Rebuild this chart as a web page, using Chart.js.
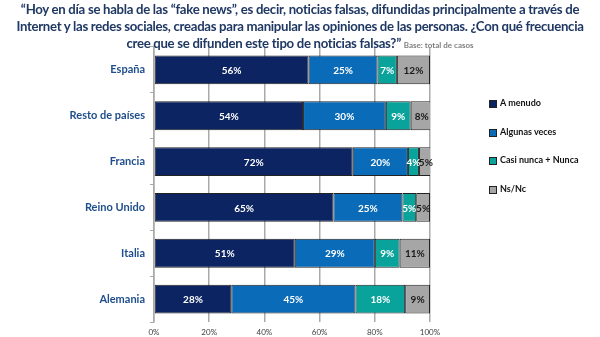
<!DOCTYPE html>
<html>
<head>
<meta charset="utf-8">
<script src="https://cdn.jsdelivr.net/npm/chart.js@4/dist/chart.umd.min.js"></script>
<style>
  body { margin: 0; width: 600px; height: 337px; background: #fff; overflow: hidden; position: relative; font-family: Lato, sans-serif; }
  #title { position: absolute; left: 0; top: 1px; width: 600px; text-align: center; font-weight: bold; font-size: 13.2px; letter-spacing: -0.3px; line-height: 17px; color: #1f3864; white-space: nowrap; z-index: 2; }
  #title small { font-size: 8px; letter-spacing: 0; color: #7f7f7f; }
  #wrap { position: absolute; left: 0; top: 0; width: 600px; height: 337px; }
  #legend { position: absolute; left: 489px; top: 97px; font-size: 9px; font-weight: bold; color: #111; }
  #legend div { height: 28.5px; display: flex; align-items: flex-start; white-space: nowrap; }
  #legend span { display: inline-block; width: 6px; height: 6px; border: 1px solid #222; margin: 3px 3px 0 0; }
</style>
</head>
<body>
<div id="title">“Hoy en día se habla de las “fake news”, es decir, noticias falsas, difundidas principalmente a través de<br>Internet y las redes sociales, creadas para manipular las opiniones de las personas. ¿Con qué frecuencia<br>cree que se difunden este tipo de noticias falsas?” <small>Base: total de casos</small></div>
<div id="wrap"><canvas id="chart" width="600" height="337"></canvas></div>
<div id="legend"></div>
<script>
// percentages per country, one array per answer
const countries = ['España', 'Resto de países', 'Francia', 'Reino Unido', 'Italia', 'Alemania'];
const aMenudo = [56, 54, 72, 65, 51, 28];
const algunasVeces = [25, 30, 20, 25, 29, 45];
const casiNunca = [7, 9, 4, 5, 9, 18];
const nsNc = [12, 8, 5, 5, 11, 9];
const seriesNames = ['A menudo', 'Algunas veces', 'Casi nunca + Nunca', 'Ns/Nc'];
const xTicks = [0, 20, 40, 60, 80, 100];

const colors = ['#0c2461', '#0a6bb8', '#0aa39c', '#a6a6a6'];
const labelColors = ['#fff', '#fff', '#fff', '#1a1a1a'];

// writes the % value in the middle of every segment
const segmentLabels = {
  id: 'segmentLabels',
  afterDatasetsDraw(chart) {
    const ctx = chart.ctx;
    ctx.save();
    ctx.font = 'bold 10px Lato';
    ctx.textAlign = 'center';
    ctx.textBaseline = 'middle';
    chart.data.datasets.forEach((ds, i) => {
      chart.getDatasetMeta(i).data.forEach((bar, j) => {
        const p = bar.getProps(['x', 'y', 'base'], true);
        ctx.fillStyle = labelColors[i];
        ctx.fillText(ds.data[j] + '%', (p.x + p.base) / 2, p.y + 1);
      });
    });
    ctx.restore();
  }
};

const ctx = document.getElementById('chart').getContext('2d');
const chart = new Chart(ctx, {
  type: 'bar',
  data: {
    labels: countries,
    datasets: [aMenudo, algunasVeces, casiNunca, nsNc].map((d, i) => ({
      label: seriesNames[i],
      data: d,
      backgroundColor: colors[i],
      borderColor: '#222',
      borderWidth: 1,
      borderSkipped: false,
      categoryPercentage: 1,
      barPercentage: 0.63
    }))
  },
  options: {
    indexAxis: 'y',
    responsive: false,
    animation: false,
    layout: { padding: { top: 47, right: 170, left: 0, bottom: 0 } },
    plugins: { legend: { display: false }, tooltip: { enabled: false } },
    scales: {
      x: {
        stacked: true,
        min: 0,
        max: 100,
        afterBuildTicks(axis) { axis.ticks = xTicks.map(v => ({ value: v })); },
        afterFit(axis) { axis.height = 15; },
        grid: { color: '#a9a9a9', lineWidth: 1.5, drawTicks: false },
        border: { display: false },
        ticks: { callback: v => v + '%', font: { family: 'Lato', size: 8 }, color: '#404040', padding: 6, maxRotation: 0 }
      },
      y: {
        stacked: true,
        afterFit(axis) { axis.width = 154; },
        grid: { drawOnChartArea: false, tickLength: 4, color: '#a9a9a9' },
        border: { color: '#a9a9a9', width: 1.5 },
        ticks: { font: { family: 'Lato', size: 11, weight: 'bold' }, color: '#1f4e8c', padding: 5 }
      }
    }
  },
  plugins: [segmentLabels]
});

// legend built from the chart's own datasets
document.getElementById('legend').innerHTML = chart.data.datasets
  .map(ds => '<div><span style="background:' + ds.backgroundColor + '"></span>' + ds.label + '</div>')
  .join('');
</script>
</body>
</html>
